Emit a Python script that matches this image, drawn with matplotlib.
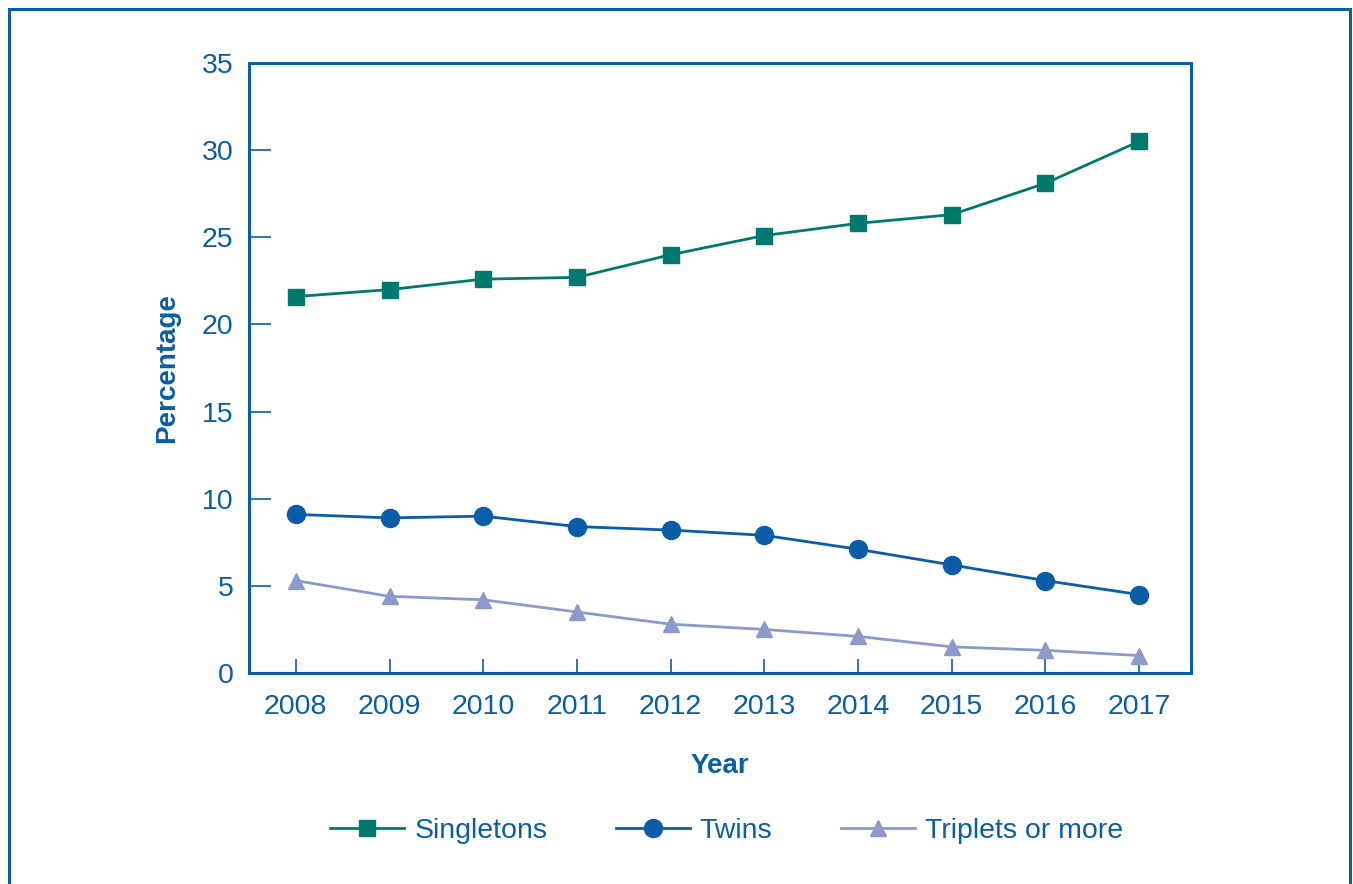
import matplotlib
matplotlib.use("Agg")
from matplotlib import pyplot as plt
from matplotlib.patches import Rectangle

years = [2008, 2009, 2010, 2011, 2012, 2013, 2014, 2015, 2016, 2017]
singletons = [21.6, 22.0, 22.6, 22.7, 24.0, 25.1, 25.8, 26.3, 28.1, 30.5]
twins = [9.1, 8.9, 9.0, 8.4, 8.2, 7.9, 7.1, 6.2, 5.3, 4.5]
triplets = [5.3, 4.4, 4.2, 3.5, 2.8, 2.5, 2.1, 1.5, 1.3, 1.0]

BLUE = "#0A5DA6"
TEAL = "#007A6E"
LIGHT = "#8B9ACB"

plt.rcParams["font.family"] = ["Liberation Sans", "DejaVu Sans"]

fig = plt.figure(figsize=(13.53, 8.84), dpi=100)
ax = fig.add_axes([0.184, 0.2387, 0.696, 0.69])

# outer frame around the whole figure
fig.patches.append(Rectangle((0.0067, -0.1), 0.991, 1.09, transform=fig.transFigure,
                             fill=False, edgecolor=BLUE, linewidth=2.2))

ax.plot(years, singletons, color=TEAL, lw=2, marker="s", ms=11.5, label="Singletons")
ax.plot(years, twins, color=BLUE, lw=2, marker="o", ms=13, label="Twins")
ax.plot(years, triplets, color=LIGHT, lw=2, marker="^", ms=12, label="Triplets or more")

ax.set_xlim(2007.5, 2017.55)
ax.set_ylim(0, 35)
ax.set_xticks(years)
ax.set_yticks(range(0, 36, 5))

for s in ax.spines.values():
    s.set_color(BLUE)
    s.set_linewidth(2.2)

ax.tick_params(axis="y", direction="in", length=16, width=1.2, color=BLUE,
               labelcolor=BLUE, labelsize=20.5, pad=11)
ax.tick_params(axis="x", direction="in", length=10, width=1.2, color=BLUE,
               labelcolor=BLUE, labelsize=20.5, pad=15)
# no tick mark at top value
ax.yaxis.get_major_ticks()[-1].tick1line.set_visible(False)

ax.set_xlabel("Year", color=BLUE, fontsize=20, fontweight="bold", labelpad=24)
ax.set_ylabel("Percentage", color=BLUE, fontsize=20, fontweight="bold", labelpad=16)

fig.legend(loc="center", bbox_to_anchor=(0.537, 0.060), ncol=3, frameon=False,
           fontsize=20.5, handlelength=2.6, columnspacing=2.4, handletextpad=0.35,
           labelcolor=BLUE)

fig.savefig("out.png", dpi=100)
